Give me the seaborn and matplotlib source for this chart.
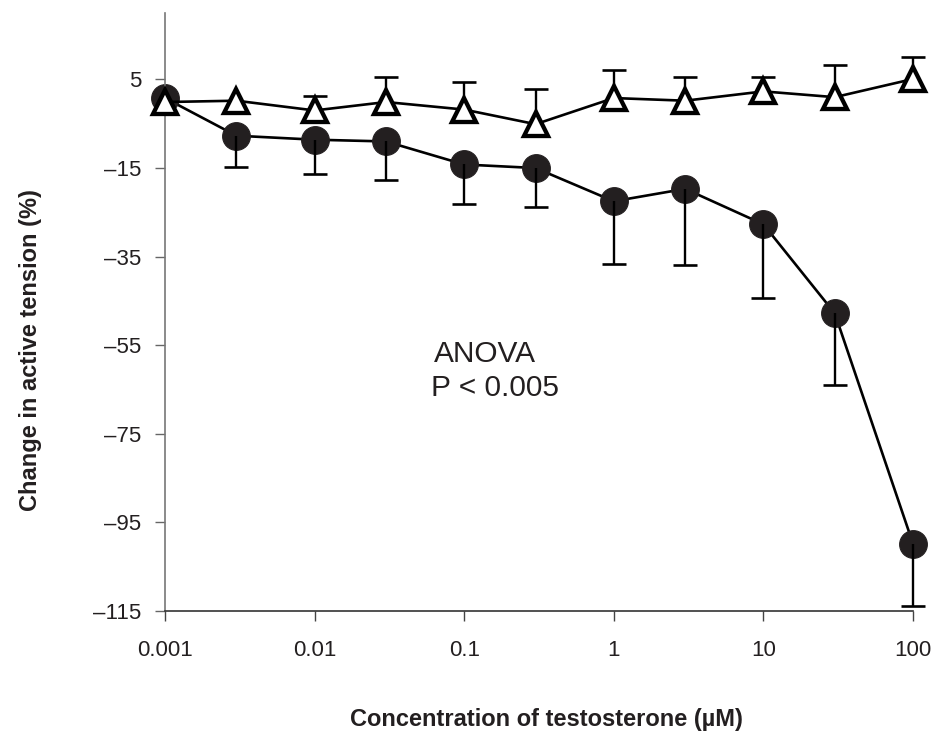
import numpy as np
import pandas as pd
import matplotlib
matplotlib.use("Agg")
import matplotlib.pyplot as plt
import seaborn as sns

# ---- data ----
conc = [0.001, 0.003, 0.01, 0.03, 0.1, 0.3, 1, 3, 10, 30, 100]
circle_mean = [0.8, -7.7, -8.6, -9.0, -14.2, -15.0, -22.5, -19.7, -27.7, -47.8, -99.8]
circle_err = [0, 7.0, 7.8, 8.7, 8.9, 8.9, 14.2, 17.2, 16.6, 16.1, 14.1]
triangle_mean = [-0.1, 0.2, -2.0, -0.1, -1.8, -5.1, 0.8, 0.2, 2.3, 1.0, 5.1]
triangle_err = [0, 0, 3.3, 5.6, 6.3, 7.9, 6.4, 5.3, 3.2, 7.2, 4.9]

xtick_vals = [0.001, 0.01, 0.1, 1, 10, 100]
xtick_labels = ["0.001", "0.01", "0.1", "1", "10", "100"]
ytick_vals = [5, -15, -35, -55, -75, -95, -115]
ytick_labels = ["5", "\u201315", "\u201335", "\u201355", "\u201375", "\u201395", "\u2013115"]

sns.set_style("white")
plt.rcParams["font.family"] = ["Liberation Sans", "DejaVu Sans"]

fig = plt.figure(figsize=(9.43, 7.42), dpi=100)
ax = fig.add_axes([165 / 943, 1 - 611 / 742, (913 - 165) / 943, (611 - 13) / 742])

df_c = pd.DataFrame({"conc": conc, "val": circle_mean, "err": circle_err})
df_t = pd.DataFrame({"conc": conc, "val": triangle_mean, "err": triangle_err})

dark = "#231f20"


def one_sided(df, direction, z):
    """Draw one-sided error bars (down for direction=-1, up for +1) for points with err > 0."""
    sub = df[df["err"] > 0]
    zeros = np.zeros(len(sub))
    errs = sub["err"].to_numpy()
    yerr = [errs, zeros] if direction < 0 else [zeros, errs]
    cont = ax.errorbar(sub["conc"], sub["val"], yerr=yerr, fmt="none", ecolor="black",
                       elinewidth=1.7, capsize=8.3, capthick=1.9, clip_on=False, zorder=z)
    vals = sub["val"].to_numpy()
    for cl in cont[1]:
        yd = np.asarray(cl.get_ydata(), dtype=float)
        if len(yd) == len(vals) and np.allclose(yd, vals):
            cl.set_visible(False)
    return cont


# circles
sns.lineplot(data=df_c, x="conc", y="val", ax=ax, color="black", linewidth=1.9,
             marker="o", markersize=20, markerfacecolor=dark, markeredgecolor=dark,
             clip_on=False, zorder=2)
one_sided(df_c, -1, 3)

# triangles
one_sided(df_t, +1, 4)
sns.lineplot(data=df_t, x="conc", y="val", ax=ax, color="black", linewidth=1.9,
             marker="^", markersize=17.5, markerfacecolor="white", markeredgecolor="black",
             markeredgewidth=3.1, clip_on=False, zorder=5)

ax.set_xscale("log")
ax.set_xlim(0.001, 100)
ax.set_ylim(-115, 20)

ax.set_xticks(xtick_vals)
ax.set_xticklabels(xtick_labels)
ax.minorticks_off()
ax.set_yticks(ytick_vals)
ax.set_yticklabels(ytick_labels)

ax.tick_params(axis="x", direction="out", length=7, width=1, colors="#444444",
               labelcolor="#231f20", labelsize=16, pad=14, bottom=True)
ax.tick_params(axis="y", direction="out", length=7, width=1, colors="#666666",
               labelcolor="#231f20", labelsize=16, pad=10, left=True)

for s in ["top", "right"]:
    ax.spines[s].set_visible(False)
ax.spines["left"].set_color("#777777")
ax.spines["left"].set_linewidth(1.2)
ax.spines["bottom"].set_color("#333333")
ax.spines["bottom"].set_linewidth(1.2)

ax.set_xlabel("Concentration of testosterone (\u00b5M)", fontsize=17, fontweight="bold",
              color="#231f20")
ax.set_ylabel("Change in active tension (%)", fontsize=17, fontweight="bold",
              color="#231f20")
ax.xaxis.set_label_coords((546 - 165) / 748, (611 - 708) / 598)
ax.yaxis.set_label_coords((42 - 165) / 748, (611 - 350) / 598)

ax.text(0.063, -57.0, "ANOVA", fontsize=21.5, color="#231f20", ha="left", va="center")
ax.text(0.0599, -64.6, "P < 0.005", fontsize=21.5, color="#231f20", ha="left", va="center")

ax.grid(False)
fig.savefig("out.png", dpi=100)
